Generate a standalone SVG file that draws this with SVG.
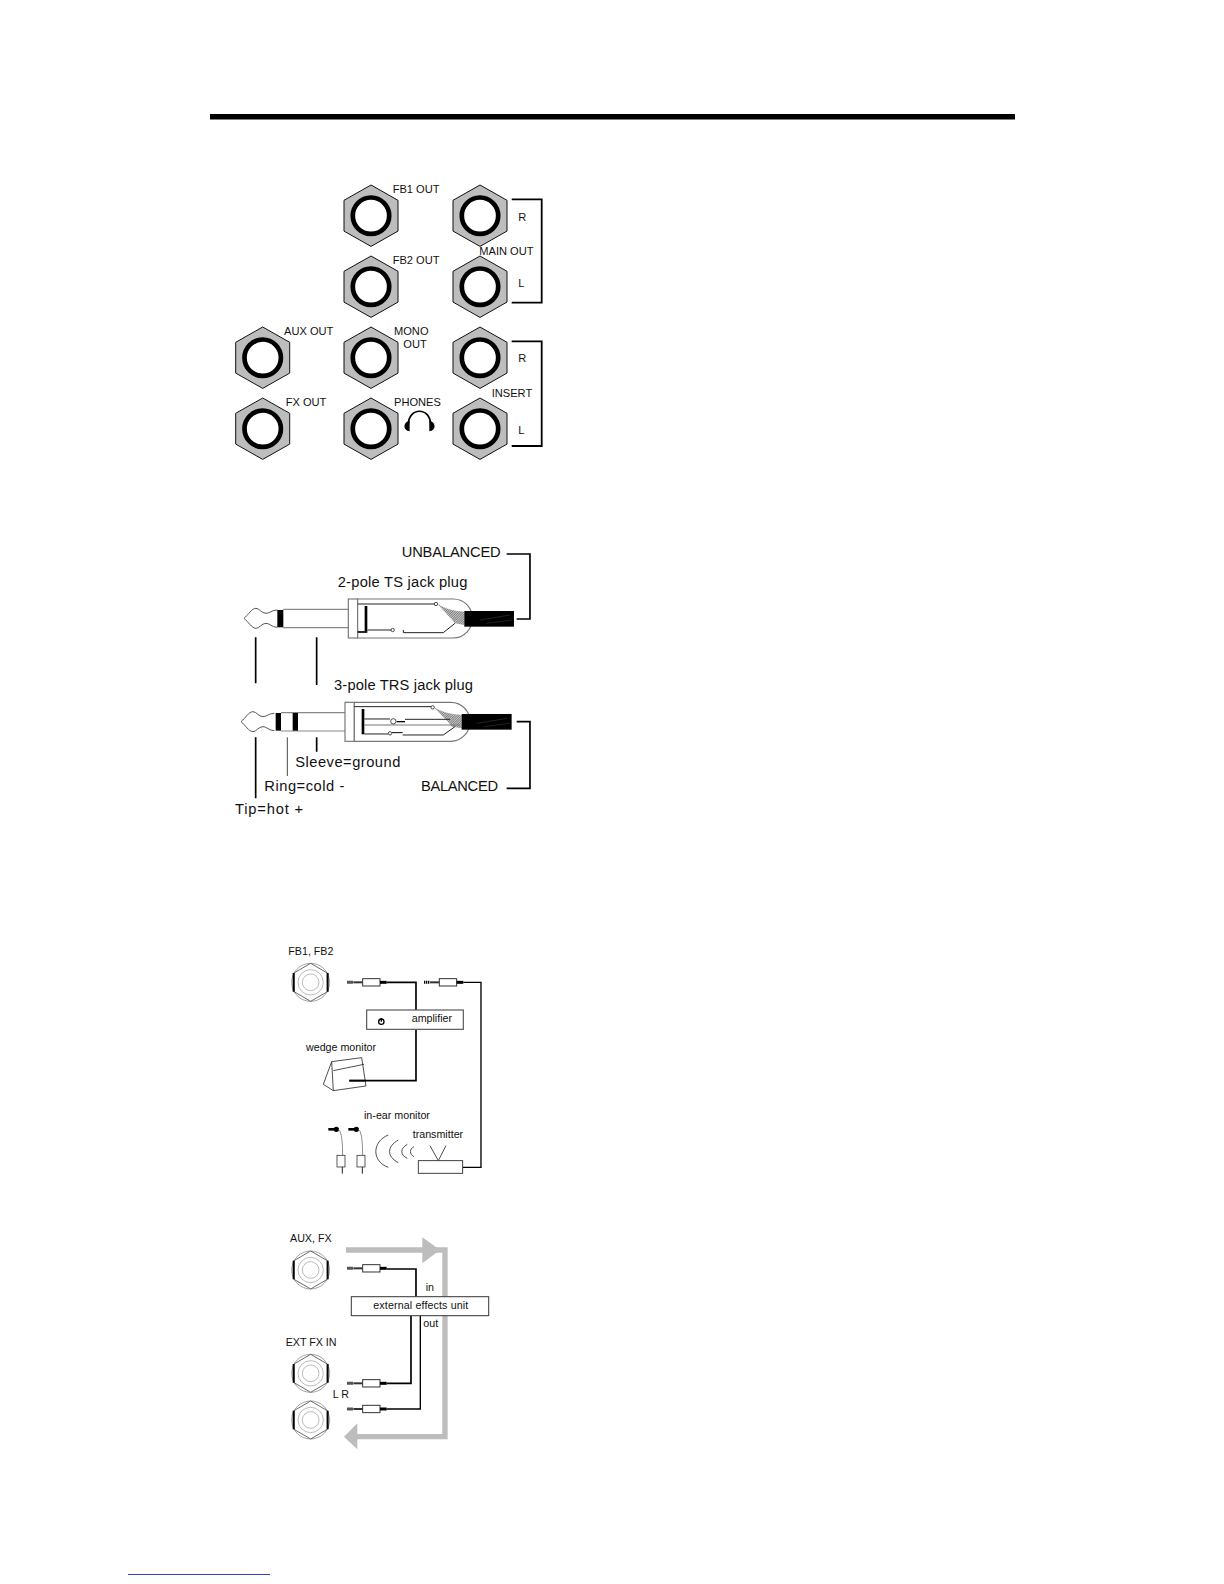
<svg xmlns="http://www.w3.org/2000/svg" width="1224" height="1584" viewBox="0 0 1224 1584">
<style>
text{font-family:"Liberation Sans",Arial,sans-serif;fill:#111}
.t1{font-size:11.1px}
.t2{font-size:14.7px}
.t3{font-size:10.7px}
.hex{fill:#bdbdbd;stroke:#111;stroke-width:1}
.ring{fill:#fff;stroke:#000;stroke-width:4.7}
.br{fill:none;stroke:#000;stroke-width:1.8}
.g{fill:none;stroke:#888;stroke-width:3.5}
.k{fill:none;stroke:#000;stroke-width:5}
.n{fill:none;stroke:#000;stroke-width:5}
.w{fill:#fff;stroke:#777;stroke-width:3.5}
.thin{fill:none;stroke:#777;stroke-width:2.5}
.dk{fill:none;stroke:#222;stroke-width:3}
.arrow{fill:#bdbdbd;stroke:none}
.al{fill:none;stroke:#bdbdbd;stroke-width:16}
.line{fill:none;stroke:#222;stroke-width:2.400}
.pin{fill:#fff;stroke:#222;stroke-width:2.400}
</style>
<defs>
<pattern id="hatch" width="5" height="5" patternUnits="userSpaceOnUse" patternTransform="rotate(45)"><rect width="5" height="5" fill="#ccc"/><rect width="2" height="5" fill="#666"/></pattern>
<g id="jack"><polygon class="hex" points="0,-30.700 27,-15.400 27,15.400 0,30.700 -27,15.400 -27,-15.400"/><circle class="ring" r="18.200"/></g>
<g id="plug">
<path d="M0 0H18" stroke="#000" stroke-width="9" stroke-dasharray="4 2" fill="none"/>
<path d="M18 0H46" stroke="#333" stroke-width="6" fill="none"/>
<rect x="46" y="-11" width="52" height="22" fill="#fff" stroke="#333" stroke-width="3"/>
<path d="M98 0H118" stroke="#000" stroke-width="9" fill="none"/>
</g>
<g id="small">
<circle r="57" fill="#fff" stroke="#777" stroke-width="2"/>
<polygon points="0,-57 50,-28 50,28 0,57 -50,28 -50,-28" fill="#fff" stroke="#444" stroke-width="2.400"/>
<path d="M-51 -28V28M51 -28V28" stroke="#000" stroke-width="6" fill="none"/>
<circle r="38" fill="none" stroke="#999" stroke-width="2"/>
<circle r="25" fill="none" stroke="#999" stroke-width="2"/>
</g>
<g id="bud">
<path d="M0 0H30" stroke="#000" stroke-width="8" fill="none"/><circle cx="24" cy="0" r="8" fill="#000"/>
<path d="M30 0Q43 6 43 78" class="thin"/>
<rect x="26" y="78" width="24" height="35" fill="#fff" stroke="#333" stroke-width="2.400"/>
<path d="M42 113V133" class="dk"/>
</g>
</defs>

<rect id="top-rule" x="210" y="114" width="805" height="5.500" fill="#000"/>
<rect id="footer-link" x="128" y="1574" width="142" height="1" fill="#3344aa"/>

<g id="connectors">
<path class="br" d="M511.700 199.300H541.700V302.700H511.700"/>
<path class="br" d="M511.700 341.300H541.700V446H511.700"/>
<g transform="translate(220,530) scale(.3333)">
<path class="k" d="M860 72H930V267H890"/>
<path class="k" d="M890 575H930V775H860"/>
<path class="k" d="M107 322V460M290 322V465M107 622V805M290 622V665"/>
<path d="M202 622V738" fill="none" stroke="#222" stroke-width="2.500"/>
</g>
<g transform="translate(270,925) scale(.3333)">
<path class="n" d="M350 172H438V255M438 313V467H238"/>
<path class="n" style="stroke-width:4" d="M580 172H633V727H578"/>
</g>
<g transform="translate(270,1210) scale(.3333)">
<path class="al" d="M228 120H525V680H240"/>
<polygon class="arrow" points="457,82 510,120 457,160"/>
<polygon class="arrow" points="262,640 222,680 262,718"/>
<path class="n" d="M350 177H438V260M423 317V520H350"/>
<path class="n" style="stroke-width:4" d="M451 317V597H350"/>
</g>
</g>

<g id="fb1-out"><use href="#jack" x="371" y="215.700"/><text class="t1" x="392.700" y="192.700">FB1 OUT</text></g>
<g id="fb2-out"><use href="#jack" x="371" y="286.700"/><text class="t1" x="392.700" y="264.300">FB2 OUT</text></g>
<g id="main-r"><use href="#jack" x="480" y="215.700"/><text class="t1" x="518.300" y="220.700">R</text></g>
<g id="main-l"><use href="#jack" x="480" y="286.700"/><text class="t1" x="479.300" y="255.300">MAIN OUT</text><text class="t1" x="518.300" y="287.300">L</text></g>
<g id="aux-out"><use href="#jack" x="262.700" y="357.700"/><text class="t1" x="284" y="335">AUX OUT</text></g>
<g id="mono-out"><use href="#jack" x="371" y="357.700"/><text class="t1" x="394" y="335">MONO</text><text class="t1" x="403.300" y="347.700">OUT</text></g>
<g id="insert-r"><use href="#jack" x="480" y="357.700"/><text class="t1" x="518.300" y="362.300">R</text></g>
<g id="fx-out"><use href="#jack" x="262.700" y="428.700"/><text class="t1" x="285.700" y="406">FX OUT</text></g>
<g id="phones"><use href="#jack" x="371" y="428.700"/><text class="t1" x="394" y="406">PHONES</text>
<g transform="translate(220,170) scale(.3333)"><path d="M565 765C565 710 632 710 632 765" fill="none" stroke="#000" stroke-width="5"/>
<path d="M569 753C548 755 548 782 569 784ZM628 753C649 755 649 782 628 784Z" fill="#000"/></g></g>
<g id="insert-l"><use href="#jack" x="480" y="428.700"/><text class="t1" x="491.700" y="397.300">INSERT</text><text class="t1" x="518.300" y="434">L</text></g>

<g id="ts-plug">
<g transform="translate(220,530) scale(.3333)">
<path class="g" d="M190 238H385M190 293H385"/>
<path d="M172 240C155 240 150 250 138 250C125 250 118 235 108 235C95 235 85 255 72 265C85 275 95 295 108 295C118 295 125 280 138 280C150 280 155 292 172 292" fill="#fff" stroke="#555" stroke-width="3"/>
<rect x="172" y="240" width="18" height="52" fill="#000"/>
<rect x="385" y="207" width="28" height="117" class="w"/>
<path class="w" d="M413 207H700C735 207 757 235 757 265C757 295 735 324 700 324H413Z"/>
<path d="M652 222C680 238 700 243 733 245V285L705 280C690 262 670 240 652 222Z" fill="url(#hatch)"/>
<rect x="733" y="243" width="149" height="47" fill="#000"/>
<path d="M780 270L870 255M800 280L875 270" stroke="#444" stroke-width="1.500"/>
<path class="dk" d="M413 222H645"/>
<circle class="pin" cx="648" cy="222" r="5"/>
<rect x="434" y="228" width="8" height="76" fill="#000"/>
<path d="M413 306H442" stroke="#000" stroke-width="5"/>
<path class="dk" d="M442 300H515M550 300V308H670L705 280"/>
<circle class="pin" cx="518" cy="300" r="5"/>
</g>
<text class="t2" x="337.700" y="587.300" textLength="129.700">2-pole TS jack plug</text>
<text class="t2" x="401.700" y="556.700" textLength="99">UNBALANCED</text>
</g>

<g id="trs-plug">
<g transform="translate(220,530) scale(.3333)">
<path class="g" d="M183 548H375M183 603H375"/>
<path d="M163 550C146 550 141 560 129 560C116 560 109 545 99 545C86 545 76 565 63 575C76 585 86 605 99 605C109 605 116 590 129 590C141 590 146 602 163 602" fill="#fff" stroke="#555" stroke-width="3"/>
<rect x="167" y="549" width="16" height="53" fill="#000"/>
<rect x="218" y="549" width="16" height="53" fill="#000"/>
<rect x="375" y="517" width="28" height="117" class="w"/>
<path class="w" d="M403 517H692C727 517 750 545 750 575C750 605 727 634 692 634H403Z"/>
<path d="M641 532C670 548 692 553 725 555V595L696 590C681 572 660 550 641 532Z" fill="url(#hatch)"/>
<rect x="725" y="552" width="150" height="47" fill="#000"/>
<path d="M770 580L862 565M790 590L868 580" stroke="#444" stroke-width="1.500"/>
<path class="dk" d="M403 530H635M433 567H510M555 568H690"/>
<rect x="425" y="537" width="8" height="76" fill="#000"/>
<path class="thin" style="stroke-width:3.500" d="M433 585H720"/>
<path class="dk" d="M433 612H505M548 615H670L705 590"/>
<path d="M530 575H555" stroke="#000" stroke-width="4"/>
<path d="M516 608H548" stroke="#000" stroke-width="3"/>
<circle class="pin" cx="638" cy="532" r="5"/>
<circle class="pin" cx="520" cy="574" r="8"/>
<circle class="pin" cx="510" cy="610" r="5"/>
</g>
<text class="t2" x="334" y="690" textLength="139">3-pole TRS jack plug</text>
<text class="t2" x="295.300" y="766.700" textLength="105">Sleeve=ground</text>
<text class="t2" x="264.300" y="791" textLength="80">Ring=cold -</text>
<text class="t2" x="235" y="814.300" textLength="68">Tip=hot +</text>
<text class="t2" x="421" y="791" textLength="77">BALANCED</text>
</g>

<g id="fb1-fb2"><g transform="translate(270,925) scale(.3333)"><use href="#small" x="122" y="172"/></g><text class="t3" x="288.300" y="955">FB1, FB2</text></g>
<g id="plug-a" transform="translate(270,925) scale(.3333)"><use href="#plug" x="232" y="172"/></g>
<g id="plug-b" transform="translate(270,925) scale(.3333)"><use href="#plug" x="462" y="172"/></g>
<g id="amplifier">
<g transform="translate(270,925) scale(.3333)">
<rect x="290" y="255" width="290" height="58" fill="#fff" stroke="#555" stroke-width="3.500"/>
<circle cx="334" cy="290" r="8" fill="none" stroke="#000" stroke-width="4"/><path d="M334 279V290" stroke="#000" stroke-width="4"/>
</g>
<text class="t3" x="411.700" y="1021.700">amplifier</text>
</g>
<g id="wedge-monitor">
<g transform="translate(270,925) scale(.3333)">
<path class="line" d="M160 478L185 410L275 398L288 483L190 497ZM185 410L190 497M190 437L282 418"/>
<path d="M238 467H288" stroke="#000" stroke-width="5"/>
</g>
<text class="t3" x="306" y="1051">wedge monitor</text>
</g>
<g id="in-ear-monitor">
<g transform="translate(270,925) scale(.3333)">
<use href="#bud" x="175" y="613"/>
<use href="#bud" x="235" y="613"/>
<path class="line" d="M355 630C305 650 305 710 355 727M385 645C350 665 350 695 385 713M412 658C390 670 390 690 412 700M432 665C418 672 418 688 432 695"/>
</g>
<text class="t3" x="364" y="1119">in-ear monitor</text>
</g>
<g id="transmitter">
<g transform="translate(270,925) scale(.3333)">
<path class="line" d="M480 662L505 707L528 662"/>
<rect x="445" y="707" width="133" height="38" fill="#fff" stroke="#333" stroke-width="2.800"/>
</g>
<text class="t3" x="412.700" y="1137.700">transmitter</text>
</g>

<g id="aux-fx"><g transform="translate(270,1210) scale(.3333)"><use href="#small" x="122" y="180"/></g><text class="t3" x="290" y="1241.700">AUX, FX</text></g>
<g id="plug-c" transform="translate(270,1210) scale(.3333)"><use href="#plug" x="232" y="175"/></g>
<g id="external-effects-unit">
<rect x="351.300" y="1296.700" width="137.400" height="19" fill="#fff" stroke="#333" stroke-width="1"/>
<text class="t3" x="373.300" y="1309.300" textLength="95">external effects unit</text>
<text class="t3" x="425.700" y="1290.700">in</text>
<text class="t3" x="423.300" y="1326.700">out</text>
</g>
<g id="ext-fx-in-l"><g transform="translate(270,1210) scale(.3333)"><use href="#small" x="122" y="490"/></g><text class="t3" x="285.700" y="1345.700">EXT FX IN</text></g>
<g id="ext-fx-in-r"><g transform="translate(270,1210) scale(.3333)"><use href="#small" x="122" y="630"/></g><text class="t3" x="332.700" y="1397.700">L R</text></g>
<g id="plug-d" transform="translate(270,1210) scale(.3333)"><use href="#plug" x="232" y="520"/></g>
<g id="plug-e" transform="translate(270,1210) scale(.3333)"><use href="#plug" x="232" y="597"/></g>
</svg>
